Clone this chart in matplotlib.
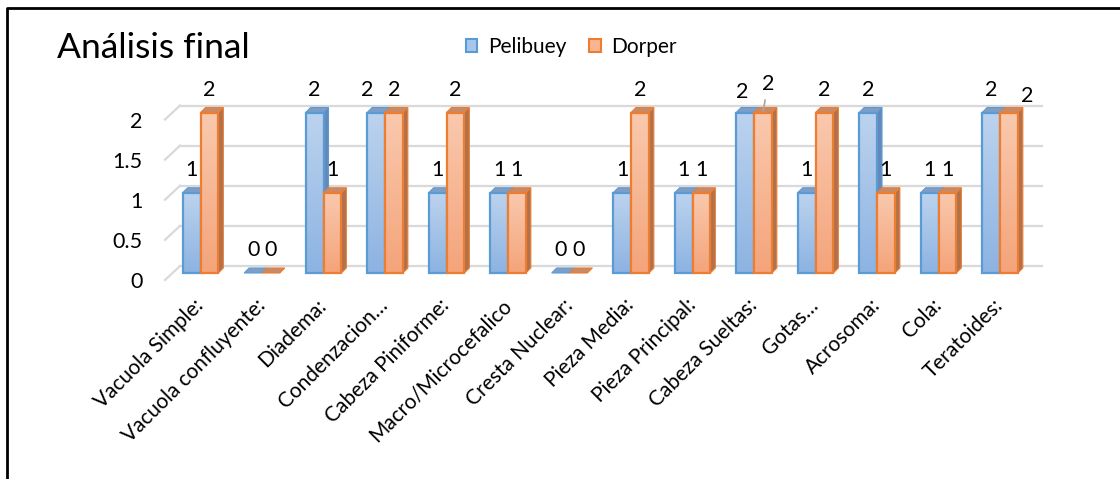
import numpy as np
import matplotlib
matplotlib.use("Agg")
import matplotlib.pyplot as plt
from matplotlib.patches import Polygon, Rectangle, Patch
from matplotlib.colors import LinearSegmentedColormap
from matplotlib.lines import Line2D

# ---- data ----
categories = ["Vacuola Simple:", "Vacuola confluyente:", "Diadema:", "Condenzacion…",
              "Cabeza Piniforme:", "Macro/Microcefalico", "Cresta Nuclear:", "Pieza Media:",
              "Pieza Principal:", "Cabeza Sueltas:", "Gotas…", "Acrosoma:", "Cola:",
              "Teratoides:"]
pelibuey = [1, 0, 2, 2, 1, 1, 0, 1, 1, 2, 1, 2, 1, 2]
dorper = [2, 0, 1, 2, 2, 1, 0, 2, 1, 2, 2, 1, 1, 2]
series_names = ["Pelibuey", "Dorper"]
y_ticks = [0, 0.5, 1, 1.5, 2]
y_tick_labels = ["0", "0.5", "1", "1.5", "2"]

plt.rcParams["font.family"] = ["Lato", "DejaVu Sans"]

W, H = 1120, 479
fig = plt.figure(figsize=(W / 100, H / 100), dpi=100)
fig.patch.set_facecolor("white")

# pixel scale of the plot (front plane)
PX_X, PX_Y = 61.5, 80.25
ax = fig.add_axes([165 / W, (H - 280) / H, 862 / W, 2 * PX_Y / H])
x_lo = -28 / PX_X
ax.set_xlim(x_lo, x_lo + 862 / PX_X)
ax.set_ylim(0, 2)
for s in ax.spines.values():
    s.set_visible(False)

# depth layers (front -> bars -> back wall), in data units
BAR_DX, BAR_DY = 7.5 / PX_X, 7 / PX_Y
BACK_DX, BACK_DY = 15 / PX_X, 14 / PX_Y
SIDE_DX, SIDE_DY = 5 / PX_X, 5 / PX_Y
BAR_W = 0.29

# back wall gridlines and left side-wall lines
grid_col = "#d9d9d9"
x_hi = ax.get_xlim()[1]
for v in y_ticks:
    ax.plot([x_lo + BACK_DX, x_hi + BACK_DX], [v + BACK_DY, v + BACK_DY],
            color=grid_col, lw=1.6, clip_on=False, zorder=1)
    ax.plot([x_lo, x_lo + BACK_DX], [v, v + BACK_DY],
            color=grid_col, lw=1.6, clip_on=False, zorder=1)

styles = [
    dict(top="#bcd3ee", bottom="#8db3e2", edge="#5b9bd5", cap="#7f9ec6", side="#6688b8"),
    dict(top="#f9c9ae", bottom="#f4a47a", edge="#ed7d31", cap="#c88a66", side="#b0714d"),
]

grad = np.linspace(0, 1, 64).reshape(-1, 1)
z = [3]


def draw_bar(x0, x1, h, st):
    base = BAR_DY
    top = base + h
    z[0] += 1
    zz = z[0]
    if h > 0:
        cmap = LinearSegmentedColormap.from_list("g", [st["top"], st["bottom"]])
        rect = Rectangle((x0, base), x1 - x0, h, facecolor="none", edgecolor=st["edge"],
                         lw=1.6, zorder=zz + 0.2, clip_on=False)
        ax.add_patch(rect)
        im = ax.imshow(grad, extent=[x0, x1, base, top], origin="upper", cmap=cmap,
                       aspect="auto", zorder=zz, interpolation="bilinear")
        im.set_clip_path(rect)
        side = Polygon([(x1, base), (x1 + SIDE_DX, base + SIDE_DY),
                        (x1 + SIDE_DX, top + SIDE_DY), (x1, top)],
                       facecolor=st["side"], edgecolor=st["edge"], lw=0.8,
                       zorder=zz + 0.1, clip_on=False)
        ax.add_patch(side)
    cap = Polygon([(x0, top), (x1, top), (x1 + SIDE_DX, top + SIDE_DY),
                   (x0 + SIDE_DX, top + SIDE_DY)],
                  facecolor=st["cap"], edgecolor=st["edge"], lw=0.8,
                  zorder=zz + 0.15, clip_on=False)
    ax.add_patch(cap)


# nudges for a few data labels (pixels): (series, category) -> (dx, dy)
label_nudge = {(0, 3): (-9, 0), (0, 9): (-3, -3), (1, 9): (5, 5), (1, 13): (18, -7)}

for i in range(len(categories)):
    for s, vals in enumerate([pelibuey, dorper]):
        v = vals[i]
        if s == 0:
            x0, x1 = i + BAR_DX - BAR_W, i + BAR_DX
        else:
            x0, x1 = i + BAR_DX, i + BAR_DX + BAR_W
        draw_bar(x0, x1, v, styles[s])
        dx, dy = label_nudge.get((s, i), (0, 0))
        kw = {}
        if (s, i) == (1, 9):
            kw["arrowprops"] = dict(arrowstyle="-", color="#a6a6a6", lw=1.2,
                                    shrinkA=2, shrinkB=1)
        ax.annotate(str(v), xy=((x0 + x1) / 2, BAR_DY + v), xytext=(dx, 23 + dy),
                    textcoords="offset pixels", ha="center", va="center",
                    fontsize=15.5, color="black", zorder=100, annotation_clip=False, **kw)

ax.set_yticks(y_ticks, y_tick_labels)
ax.tick_params(axis="y", length=0, pad=16, labelsize=15.5)
ax.set_xticks([i + BAR_DX for i in range(len(categories))])
ax.set_xticklabels(categories, rotation=45, ha="right", va="center",
                   rotation_mode="anchor", fontsize=15)
ax.tick_params(axis="x", length=0, pad=16)

fig.text(57 / W, 1 - 58 / H, "Análisis final", fontsize=25.5, va="baseline")

handles = [Patch(facecolor="#a9c6ea", edgecolor="#5b9bd5", lw=1.5),
           Patch(facecolor="#f8b592", edgecolor="#ed7d31", lw=1.5)]
fig.legend(handles=handles, labels=series_names, loc="center left",
           bbox_to_anchor=(466 / W, 1 - 47 / H), frameon=False, ncol=2,
           handlelength=0.55, handleheight=0.6, handletextpad=0.5,
           columnspacing=1.1, fontsize=15, borderpad=0, borderaxespad=0)

# chart border (top and left edges)
fig.add_artist(Line2D([7 / W, 7 / W, 1], [0, 1 - 8 / H, 1 - 8 / H],
                      color="black", lw=2, transform=fig.transFigure))

fig.savefig("out.png", dpi=100)
